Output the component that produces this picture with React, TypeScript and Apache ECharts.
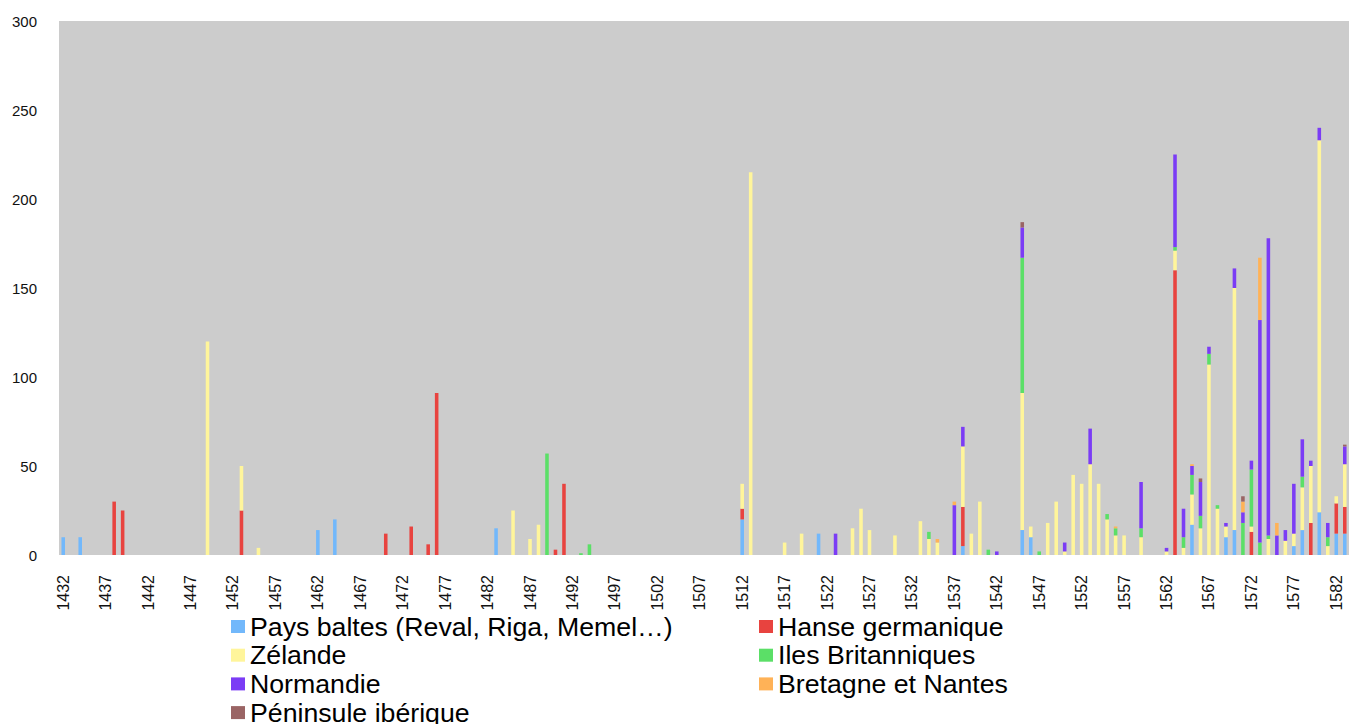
import React, { useEffect, useRef } from "react";
import * as echarts from "echarts";

const years: number[] = [
  1432, 1433, 1434, 1435, 1436, 1437, 1438, 1439, 1440, 1441, 1442, 1443, 1444, 1445, 1446, 1447, 1448, 1449, 1450,
  1451, 1452, 1453, 1454, 1455, 1456, 1457, 1458, 1459, 1460, 1461, 1462, 1463, 1464, 1465, 1466, 1467, 1468, 1469,
  1470, 1471, 1472, 1473, 1474, 1475, 1476, 1477, 1478, 1479, 1480, 1481, 1482, 1483, 1484, 1485, 1486, 1487, 1488,
  1489, 1490, 1491, 1492, 1493, 1494, 1495, 1496, 1497, 1498, 1499, 1500, 1501, 1502, 1503, 1504, 1505, 1506, 1507,
  1508, 1509, 1510, 1511, 1512, 1513, 1514, 1515, 1516, 1517, 1518, 1519, 1520, 1521, 1522, 1523, 1524, 1525, 1526,
  1527, 1528, 1529, 1530, 1531, 1532, 1533, 1534, 1535, 1536, 1537, 1538, 1539, 1540, 1541, 1542, 1543, 1544, 1545,
  1546, 1547, 1548, 1549, 1550, 1551, 1552, 1553, 1554, 1555, 1556, 1557, 1558, 1559, 1560, 1561, 1562, 1563, 1564,
  1565, 1566, 1567, 1568, 1569, 1570, 1571, 1572, 1573, 1574, 1575, 1576, 1577, 1578, 1579, 1580, 1581, 1582, 1583,
];

const paysBaltes: [number, number][] = [
  [1432, 10], [1434, 10], [1462, 14], [1464, 20], [1483, 15], [1512, 20], [1521, 12], [1538, 5], [1545, 14],
  [1546, 10], [1565, 17], [1569, 10], [1570, 14], [1577, 5], [1578, 14], [1580, 24], [1582, 12], [1583, 12],
];

const hanse: [number, number][] = [
  [1438, 30], [1439, 25], [1453, 25], [1470, 12], [1473, 16], [1475, 6], [1476, 91], [1490, 3], [1491, 40],
  [1512, 6], [1538, 22], [1563, 160], [1572, 13], [1579, 18], [1582, 17], [1583, 15],
];

const zelande: [number, number][] = [
  [1449, 120], [1453, 25], [1455, 4], [1485, 25], [1487, 9], [1488, 17], [1512, 14], [1513, 215], [1517, 7],
  [1519, 12], [1525, 15], [1526, 26], [1527, 14], [1530, 11], [1533, 19], [1534, 9], [1535, 7], [1538, 34],
  [1539, 12], [1540, 30], [1545, 77], [1546, 6], [1548, 18], [1549, 30], [1550, 2], [1551, 45], [1552, 40],
  [1553, 51], [1554, 40], [1555, 20], [1556, 11], [1557, 11], [1559, 10], [1562, 2], [1563, 11], [1564, 4],
  [1565, 17], [1566, 15], [1567, 107], [1568, 26], [1569, 6], [1570, 136], [1572, 3], [1574, 9], [1576, 8],
  [1577, 7], [1578, 24], [1579, 32], [1580, 209], [1581, 5], [1582, 4], [1583, 24],
];

const ilesBritanniques: [number, number][] = [
  [1489, 57], [1493, 1], [1494, 6], [1534, 4], [1541, 3], [1545, 76], [1547, 2], [1555, 3], [1556, 4], [1559, 5],
  [1563, 2], [1564, 6], [1565, 11], [1566, 7], [1567, 6], [1568, 2], [1571, 18], [1572, 32], [1573, 7], [1574, 2],
  [1578, 6], [1581, 5],
];

const normandie: [number, number][] = [
  [1523, 12], [1537, 28], [1538, 11], [1542, 2], [1545, 17], [1550, 5], [1553, 20], [1559, 26], [1562, 2],
  [1563, 52], [1564, 16], [1565, 5], [1566, 19], [1567, 4], [1569, 2], [1570, 11], [1571, 6], [1572, 5],
  [1573, 125], [1574, 167], [1575, 11], [1576, 6], [1577, 28], [1578, 21], [1579, 3], [1580, 7], [1581, 8],
  [1583, 10],
];

const bretagne: [number, number][] = [
  [1535, 2], [1537, 2], [1556, 1], [1565, 1], [1571, 6], [1573, 35], [1575, 7],
];

const peninsule: [number, number][] = [
  [1545, 3], [1566, 2], [1571, 3], [1583, 1],
];

const seriesNames = [
  "Pays baltes (Reval, Riga, Memel…)",
  "Hanse germanique",
  "Zélande",
  "Iles Britanniques",
  "Normandie",
  "Bretagne et Nantes",
  "Péninsule ibérique",
];
const seriesData = [paysBaltes, hanse, zelande, ilesBritanniques, normandie, bretagne, peninsule];
const seriesColors = ["#72b8fb", "#e8433f", "#fff59b", "#5bdf67", "#7b3cf5", "#ffb257", "#9a6464"];

const FONT = "'Liberation Sans', Arial, sans-serif";

function expand(pairs: [number, number][]) {
  const m = new Map<number, number>(pairs);
  return years.map((y) => (m.has(y) ? m.get(y)! : "-"));
}

export default function App() {
  const ref = useRef<HTMLDivElement>(null);
  useEffect(() => {
    if (!ref.current) return;
    const chart = echarts.init(ref.current, null, { renderer: "svg" });
    const legendBase = {
      orient: "vertical" as const,
      top: 613,
      height: 130,
      padding: 0,
      itemWidth: 14,
      itemHeight: 13,
      itemGap: 1.7,
      icon: "rect",
      selectedMode: false,
      textStyle: { fontSize: 26.7, lineHeight: 26, fontFamily: FONT, color: "#000" },
    };
    chart.setOption({
      animation: false,
      backgroundColor: "#ffffff",
      grid: {
        left: 59,
        right: -4,
        top: 21,
        height: 534,
        show: true,
        backgroundColor: "#cccccc",
        borderWidth: 0,
      },
      legend: [
        { ...legendBase, left: 231, data: [seriesNames[0], seriesNames[2], seriesNames[4], seriesNames[6]] },
        { ...legendBase, left: 759, data: [seriesNames[1], seriesNames[3], seriesNames[5]] },
      ],
      xAxis: {
        type: "category",
        data: years.map(String),
        axisLine: { show: false },
        axisTick: { show: false },
        splitLine: { show: false },
        axisLabel: {
          interval: 4,
          rotate: 90,
          margin: 20,
          fontSize: 16,
          fontFamily: FONT,
          color: "#111",
        },
      },
      yAxis: {
        type: "value",
        min: 0,
        max: 300,
        interval: 50,
        axisLine: { show: false },
        axisTick: { show: false },
        splitLine: { show: false },
        axisLabel: { fontSize: 15, margin: 22, fontFamily: FONT, color: "#111" },
      },
      series: seriesNames.map((name, i) => ({
        name,
        type: "bar",
        stack: "total",
        barWidth: "42%",
        data: expand(seriesData[i]),
        itemStyle: { color: seriesColors[i] },
        emphasis: { disabled: true },
      })),
    });
    return () => chart.dispose();
  }, []);
  return (
    <div
      ref={ref}
      style={{ position: "absolute", left: 0, top: 0, width: 1349, height: 724, overflow: "hidden" }}
    />
  );
}
